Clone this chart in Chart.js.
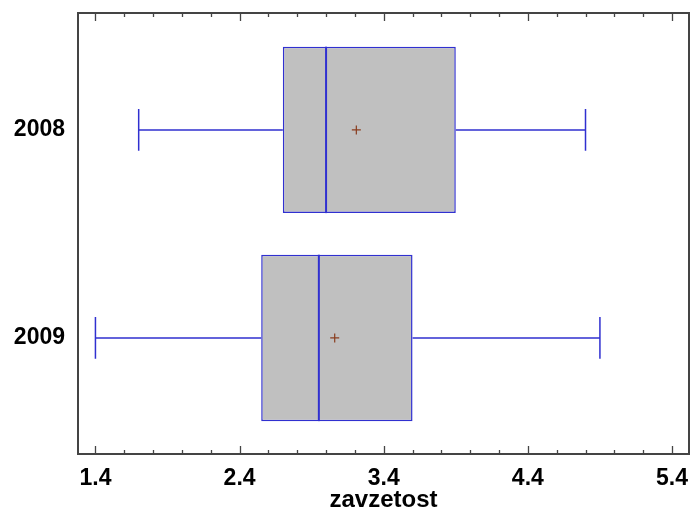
<!DOCTYPE html>
<html>
<head>
<meta charset="utf-8">
<script src="https://cdn.jsdelivr.net/npm/chart.js@4/dist/chart.umd.min.js"></script>
<style>
  html, body { margin: 0; padding: 0; background: #ffffff; }
  #wrap { width: 691px; height: 516px; }
</style>
</head>
<body>
<div id="wrap"><canvas id="c" width="691" height="516"></canvas></div>
<script>
// Box-and-whisker summary of "zavzetost" by year
const categories   = ['2008', '2009'];
const whiskerLow   = [1.70, 1.40];
const quartile1    = [2.70, 2.55];
const medians      = [3.00, 2.95];
const quartile3    = [3.90, 3.60];
const whiskerHigh  = [4.80, 4.90];
const means        = [3.21, 3.06];
const xTickValues  = [1.4, 2.4, 3.4, 4.4, 5.4];

const FONT = { family: '"Liberation Sans", Arial, sans-serif', size: 23, weight: 'bold' };
const TITLE_FONT = { family: '"Liberation Sans", Arial, sans-serif', size: 24, weight: 'bold' };
const BLUE = '#3030d0';
const FRAME = '#444444';

// boxes as floating horizontal bars, one per year
const boxData = categories.map((c, i) => ({ y: i, x: [quartile1[i], quartile3[i]] }));

// whiskers, medians, means and the framed axes with inward ticks
const boxExtras = {
  id: 'boxExtras',
  afterDatasetsDraw(chart) {
    const ctx = chart.ctx;
    const xs = chart.scales.x, ys = chart.scales.y;
    ctx.save();
    categories.forEach((c, i) => {
      const yc = ys.getPixelForValue(i);
      const capTop = ys.getPixelForValue(i - 0.1);
      const capBot = ys.getPixelForValue(i + 0.1);
      const boxTop = ys.getPixelForValue(i - 0.4);
      const boxBot = ys.getPixelForValue(i + 0.4);
      ctx.strokeStyle = BLUE;
      ctx.lineWidth = 1.5;
      ctx.beginPath();
      // lower whisker
      ctx.moveTo(xs.getPixelForValue(whiskerLow[i]), yc);
      ctx.lineTo(xs.getPixelForValue(quartile1[i]), yc);
      ctx.moveTo(xs.getPixelForValue(whiskerLow[i]), capTop);
      ctx.lineTo(xs.getPixelForValue(whiskerLow[i]), capBot);
      // upper whisker
      ctx.moveTo(xs.getPixelForValue(quartile3[i]), yc);
      ctx.lineTo(xs.getPixelForValue(whiskerHigh[i]), yc);
      ctx.moveTo(xs.getPixelForValue(whiskerHigh[i]), capTop);
      ctx.lineTo(xs.getPixelForValue(whiskerHigh[i]), capBot);
      ctx.stroke();
      // median
      ctx.lineWidth = 2;
      ctx.beginPath();
      const mx = xs.getPixelForValue(medians[i]);
      ctx.moveTo(mx, boxTop);
      ctx.lineTo(mx, boxBot);
      ctx.stroke();
      // mean marker
      const ax = xs.getPixelForValue(means[i]);
      ctx.strokeStyle = '#8a3d1e';
      ctx.lineWidth = 1.2;
      ctx.beginPath();
      ctx.moveTo(ax - 4.5, yc); ctx.lineTo(ax + 4.5, yc);
      ctx.moveTo(ax, yc - 4.5); ctx.lineTo(ax, yc + 4.5);
      ctx.stroke();
    });

    // frame
    const a = chart.chartArea;
    ctx.strokeStyle = FRAME;
    ctx.lineWidth = 2;
    ctx.strokeRect(a.left, a.top, a.right - a.left, a.bottom - a.top);

    // inward ticks on top and bottom edges, minor every 0.2
    ctx.lineWidth = 1.3;
    ctx.beginPath();
    for (let k = 0; k <= 20; k++) {
      const v = 1.4 + k * 0.2;
      const px = Math.round(xs.getPixelForValue(v)) + 0.5;
      const len = (k % 5 === 0) ? 8 : 4;
      ctx.moveTo(px, a.bottom); ctx.lineTo(px, a.bottom - len);
      ctx.moveTo(px, a.top); ctx.lineTo(px, a.top + len);
    }
    ctx.stroke();
    ctx.restore();
  }
};

new Chart(document.getElementById('c'), {
  type: 'bar',
  data: {
    datasets: [{
      data: boxData,
      backgroundColor: '#c0c0c0',
      borderColor: BLUE,
      borderWidth: 1.5,
      borderSkipped: false,
      barPercentage: 0.8,
      categoryPercentage: 1.0
    }]
  },
  options: {
    indexAxis: 'y',
    responsive: false,
    animation: false,
    devicePixelRatio: 1,
    layout: { padding: { top: 13, right: 2, left: 0, bottom: 0 } },
    plugins: { legend: { display: false }, tooltip: { enabled: false } },
    scales: {
      x: {
        type: 'linear',
        position: 'bottom',
        offset: false,
        min: 1.279,
        max: 5.518,
        afterBuildTicks(scale) { scale.ticks = xTickValues.map(v => ({ value: v })); },
        afterFit(scale) {
          scale.height = 62;
          scale.paddingLeft = 0;
          scale.paddingRight = 0;
        },
        grid: { display: false, drawTicks: false, offset: false },
        border: { display: false },
        ticks: {
          font: FONT,
          color: '#000000',
          padding: 11,
          maxRotation: 0,
          autoSkip: false,
          callback: v => Number(v).toFixed(1)
        },
        title: {
          display: true,
          text: 'zavzetost',
          font: TITLE_FONT,
          color: '#000000',
          padding: { top: 0, bottom: 1 }
        }
      },
      y: {
        type: 'linear',
        position: 'left',
        reverse: true,
        offset: false,
        grace: 0,
        min: -0.562,
        max: 1.558,
        afterBuildTicks(scale) { scale.ticks = categories.map((c, i) => ({ value: i })); },
        afterFit(scale) {
          scale.width = 78;
          scale.paddingTop = 0;
          scale.paddingBottom = 0;
        },
        grid: { display: false, drawTicks: false, offset: false },
        border: { display: false },
        ticks: {
          font: FONT,
          color: '#000000',
          padding: 13,
          autoSkip: false,
          callback: v => categories[v] ?? ''
        }
      }
    }
  },
  plugins: [boxExtras]
});
</script>
</body>
</html>
